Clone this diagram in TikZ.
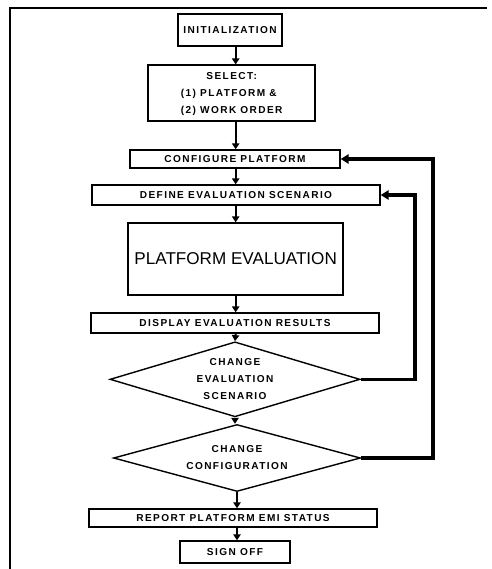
\documentclass[tikz,border=0pt]{standalone}
\usepackage{fontspec}
\setmainfont{Liberation Sans}
\newfontfamily\flowfont[LetterSpace=14]{Liberation Sans}
\usetikzlibrary{arrows.meta,positioning,shapes.geometric}
\tikzset{
  box/.style={draw=black, line width=1.2pt, align=center, inner sep=2pt, font={\flowfont\bfseries\fontsize{8.6}{14.5}\selectfont}},
  bigbox/.style={draw=black, line width=1.2pt, align=center, inner sep=2pt, font={\fontsize{14.6}{16}\selectfont}},
  decision/.style={diamond, draw=black, line width=1.2pt, align=center, inner sep=0pt, aspect=3.5, font={\flowfont\bfseries\fontsize{8.6}{14.5}\selectfont}},
  arrow/.style={-{Triangle[length=1.8mm,width=2.2mm]}, line width=1.6pt},
  loopback/.style={-{Triangle[length=2.4mm,width=2.8mm]}, line width=3pt}
}
\begin{document}
\begin{tikzpicture}
  \useasboundingbox (0,0) rectangle (14.73,17.07);
  % frame
  \draw[line width=1.2pt] (0.30,0) -- (0.30,16.83) -- (14.61,16.83);

  \node[box, minimum width=3.12cm, minimum height=0.96cm] (init) at (6.90,16.17) {INITIALIZATION};
  \node[box, minimum width=5.01cm, minimum height=1.62cm] (select) at (6.95,14.28)
    {\begin{tabular}{@{}l@{}}\multicolumn{1}{@{}c@{}}{SELECT:}\\(1) PLATFORM \&\\(2) WORK ORDER\end{tabular}};
  \node[box, minimum width=6.30cm, minimum height=0.54cm] (config) at (7.05,12.30) {CONFIGURE PLATFORM};
  \node[box, minimum width=8.64cm, minimum height=0.60cm] (define) at (7.08,11.22) {DEFINE EVALUATION SCENARIO};
  \node[bigbox, minimum width=6.45cm, minimum height=2.16cm] (peval) at (7.07,9.30) {PLATFORM EVALUATION};
  \node[box, minimum width=8.64cm, minimum height=0.60cm] (display) at (7.05,7.38) {DISPLAY EVALUATION RESULTS};
  \node[decision, minimum width=7.50cm, minimum height=2.25cm] (chgscen) at (7.05,5.69) {CHANGE\\EVALUATION\\SCENARIO};
  \node[decision, minimum width=7.41cm, minimum height=2.01cm] (chgconf) at (7.11,3.33) {CHANGE\\CONFIGURATION};
  \node[box, minimum width=8.64cm, minimum height=0.54cm] (report) at (6.99,1.53) {REPORT PLATFORM EMI STATUS};
  \node[box, minimum width=3.30cm, minimum height=0.66cm] (signoff) at (7.05,0.51) {SIGN OFF};

  \coordinate (spine) at (7.07,0);
  \coordinate (innerx) at (12.45,0);
  \coordinate (outerx) at (12.99,0);

  % main flow
  \draw[arrow] (init.south -| spine) -- (select.north -| spine);
  \draw[arrow] (select.south -| spine) -- (config.north -| spine);
  \draw[arrow] (config.south -| spine) -- (define.north -| spine);
  \draw[arrow] (define.south -| spine) -- (peval.north -| spine);
  \draw[arrow] (peval.south -| spine) -- (display.north -| spine);
  \draw[arrow] (display.south -| spine) -- (chgscen.north);
  \draw[arrow] (chgscen.south) -- (chgconf.north -| chgscen.south);
  \draw[arrow] (chgconf.south) -- (report.north -| chgconf.south);
  \draw[arrow] (report.south -| chgconf.south) -- (signoff.north -| chgconf.south);

  % loops back
  \draw[loopback] (chgscen.east) -- (chgscen.east -| innerx) |- (define.east);
  \draw[loopback] (chgconf.east) -- (chgconf.east -| outerx) |- (config.east);
\end{tikzpicture}
\end{document}
